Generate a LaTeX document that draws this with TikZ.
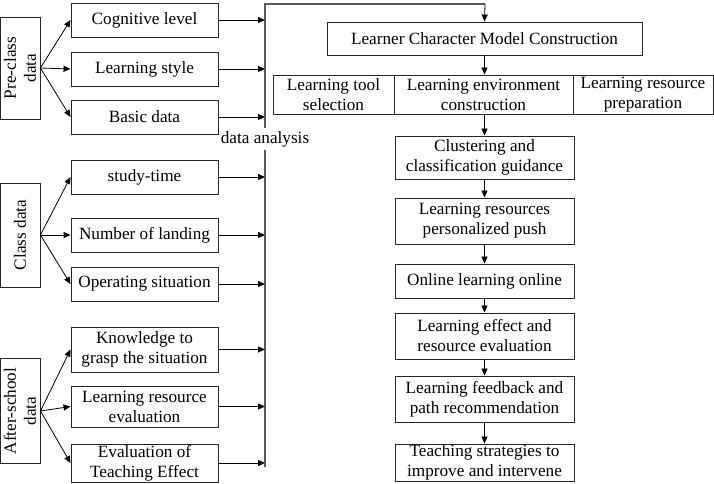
\documentclass[tikz,border=0pt]{standalone}
\usepackage{fontspec}
\setmainfont{Liberation Serif}
\usetikzlibrary{arrows.meta}
\begin{document}
\begin{tikzpicture}[x=1pt,y=-1pt,
  font=\fontsize{17.2}{20}\selectfont,
  box/.style={draw=black!85, line width=0.9pt, inner sep=0pt, align=center, minimum width=147pt, minimum height=34pt},
  side/.style={draw=black!85, line width=0.9pt, inner sep=0pt, align=center, minimum height=40pt, rotate=90},
  cbox/.style={draw=black!85, line width=0.9pt, inner sep=0pt, align=center, minimum width=179pt},
  arr/.style={-{Triangle[length=7pt,width=6pt]}, line width=0.8pt, black},
  trunkline/.style={line width=1.3pt, black!65}]
\useasboundingbox (0,0) rectangle (714,484);
% left side group labels
\node[side, minimum width=102pt] (pre) at (20,68) {Pre-class\\data};
\node[side, minimum width=104pt] (cls) at (20,235) {Class data};
\node[side, minimum width=105pt] (aft) at (20,411) {After-school\\data};
% left boxes
\node[box] (cog) at (144.5,20) {Cognitive level};
\node[box] (sty) at (144.5,69) {Learning style};
\node[box] (bas) at (144.5,117) {Basic data};
\node[box] (stu) at (144.5,177) {study-time};
\node[box] (lan) at (144.5,235) {Number of landing};
\node[box] (ope) at (144.5,284) {Operating situation};
\node[box, minimum height=45pt] (kno) at (144.5,349.5) {Knowledge to\\grasp the situation};
\node[box, minimum height=41pt] (lre) at (144.5,406.5) {Learning resource\\evaluation};
\node[box, minimum height=38pt] (tea) at (144.5,463) {Evaluation of\\Teaching Effect};
% arrows from group labels
\foreach \s/\t in {pre/cog, pre/sty, pre/bas, cls/stu, cls/lan, cls/ope, aft/kno, aft/lre, aft/tea}
  \draw[arr] (\s.south) -- (\t.west);
% trunk
\coordinate (tk) at (265,0);
\coordinate (ttop) at (265,4);
\coordinate (tbot) at (265,467);
\coordinate (gapa) at (265,128);
\coordinate (gapb) at (265,150);
\coordinate (tr) at (485,4);
\node (da) at (265,139) {data analysis};
\draw[trunkline] (tbot) -- (gapb);
\draw[trunkline] (gapa) -- (ttop) -- (tr);
\foreach \b in {cog,sty,bas,stu,lan,ope,kno,lre,tea}
  \draw[arr] (\b.east) -- (\b.east -| tk);
% right column
\node[draw=black!85, line width=0.9pt, inner sep=0pt, minimum width=315pt, minimum height=33pt] (lcmc) at (484.5,38.5) {Learner Character Model Construction};
\draw[arr] (tr) -- (lcmc.north);
\node[draw=black!85, line width=0.9pt, inner sep=0pt, align=center, minimum width=121pt, minimum height=39pt] (tool) at (333.5,94.5) {Learning tool\\selection};
\node[draw=black!85, line width=0.9pt, inner sep=0pt, align=center, minimum width=179pt, minimum height=39pt] (env) at (483.5,94.5) {Learning environment\\construction};
\node[draw=black!85, line width=0.9pt, inner sep=0pt, align=center, minimum width=140pt, minimum height=39pt] (res) at (643,94.5) {Learning resource\\preparation};
\draw[arr] (lcmc.south) -- (lcmc.south |- env.north);
\node[cbox, minimum height=43pt] (clu) at (484.5,157.5) {Clustering and\\classification guidance};
\node[cbox, minimum height=46pt] (push) at (484.5,221) {Learning resources\\personalized push};
\node[cbox, minimum height=34pt] (onl) at (484.5,281) {Online learning online};
\node[cbox, minimum height=46pt] (eff) at (484.5,336) {Learning effect and\\resource evaluation};
\node[cbox, minimum height=46pt] (fb) at (484.5,399) {Learning feedback and\\path recommendation};
\node[cbox, minimum height=37pt] (ts) at (484.5,462.5) {Teaching strategies to\\improve and intervene};
\draw[arr] (lcmc.south |- env.south) -- (clu.north);
\draw[arr] (clu) -- (push);
\draw[arr] (push) -- (onl);
\draw[arr] (onl) -- (eff);
\draw[arr] (eff) -- (fb);
\draw[arr] (fb) -- (ts);
\end{tikzpicture}
\end{document}
